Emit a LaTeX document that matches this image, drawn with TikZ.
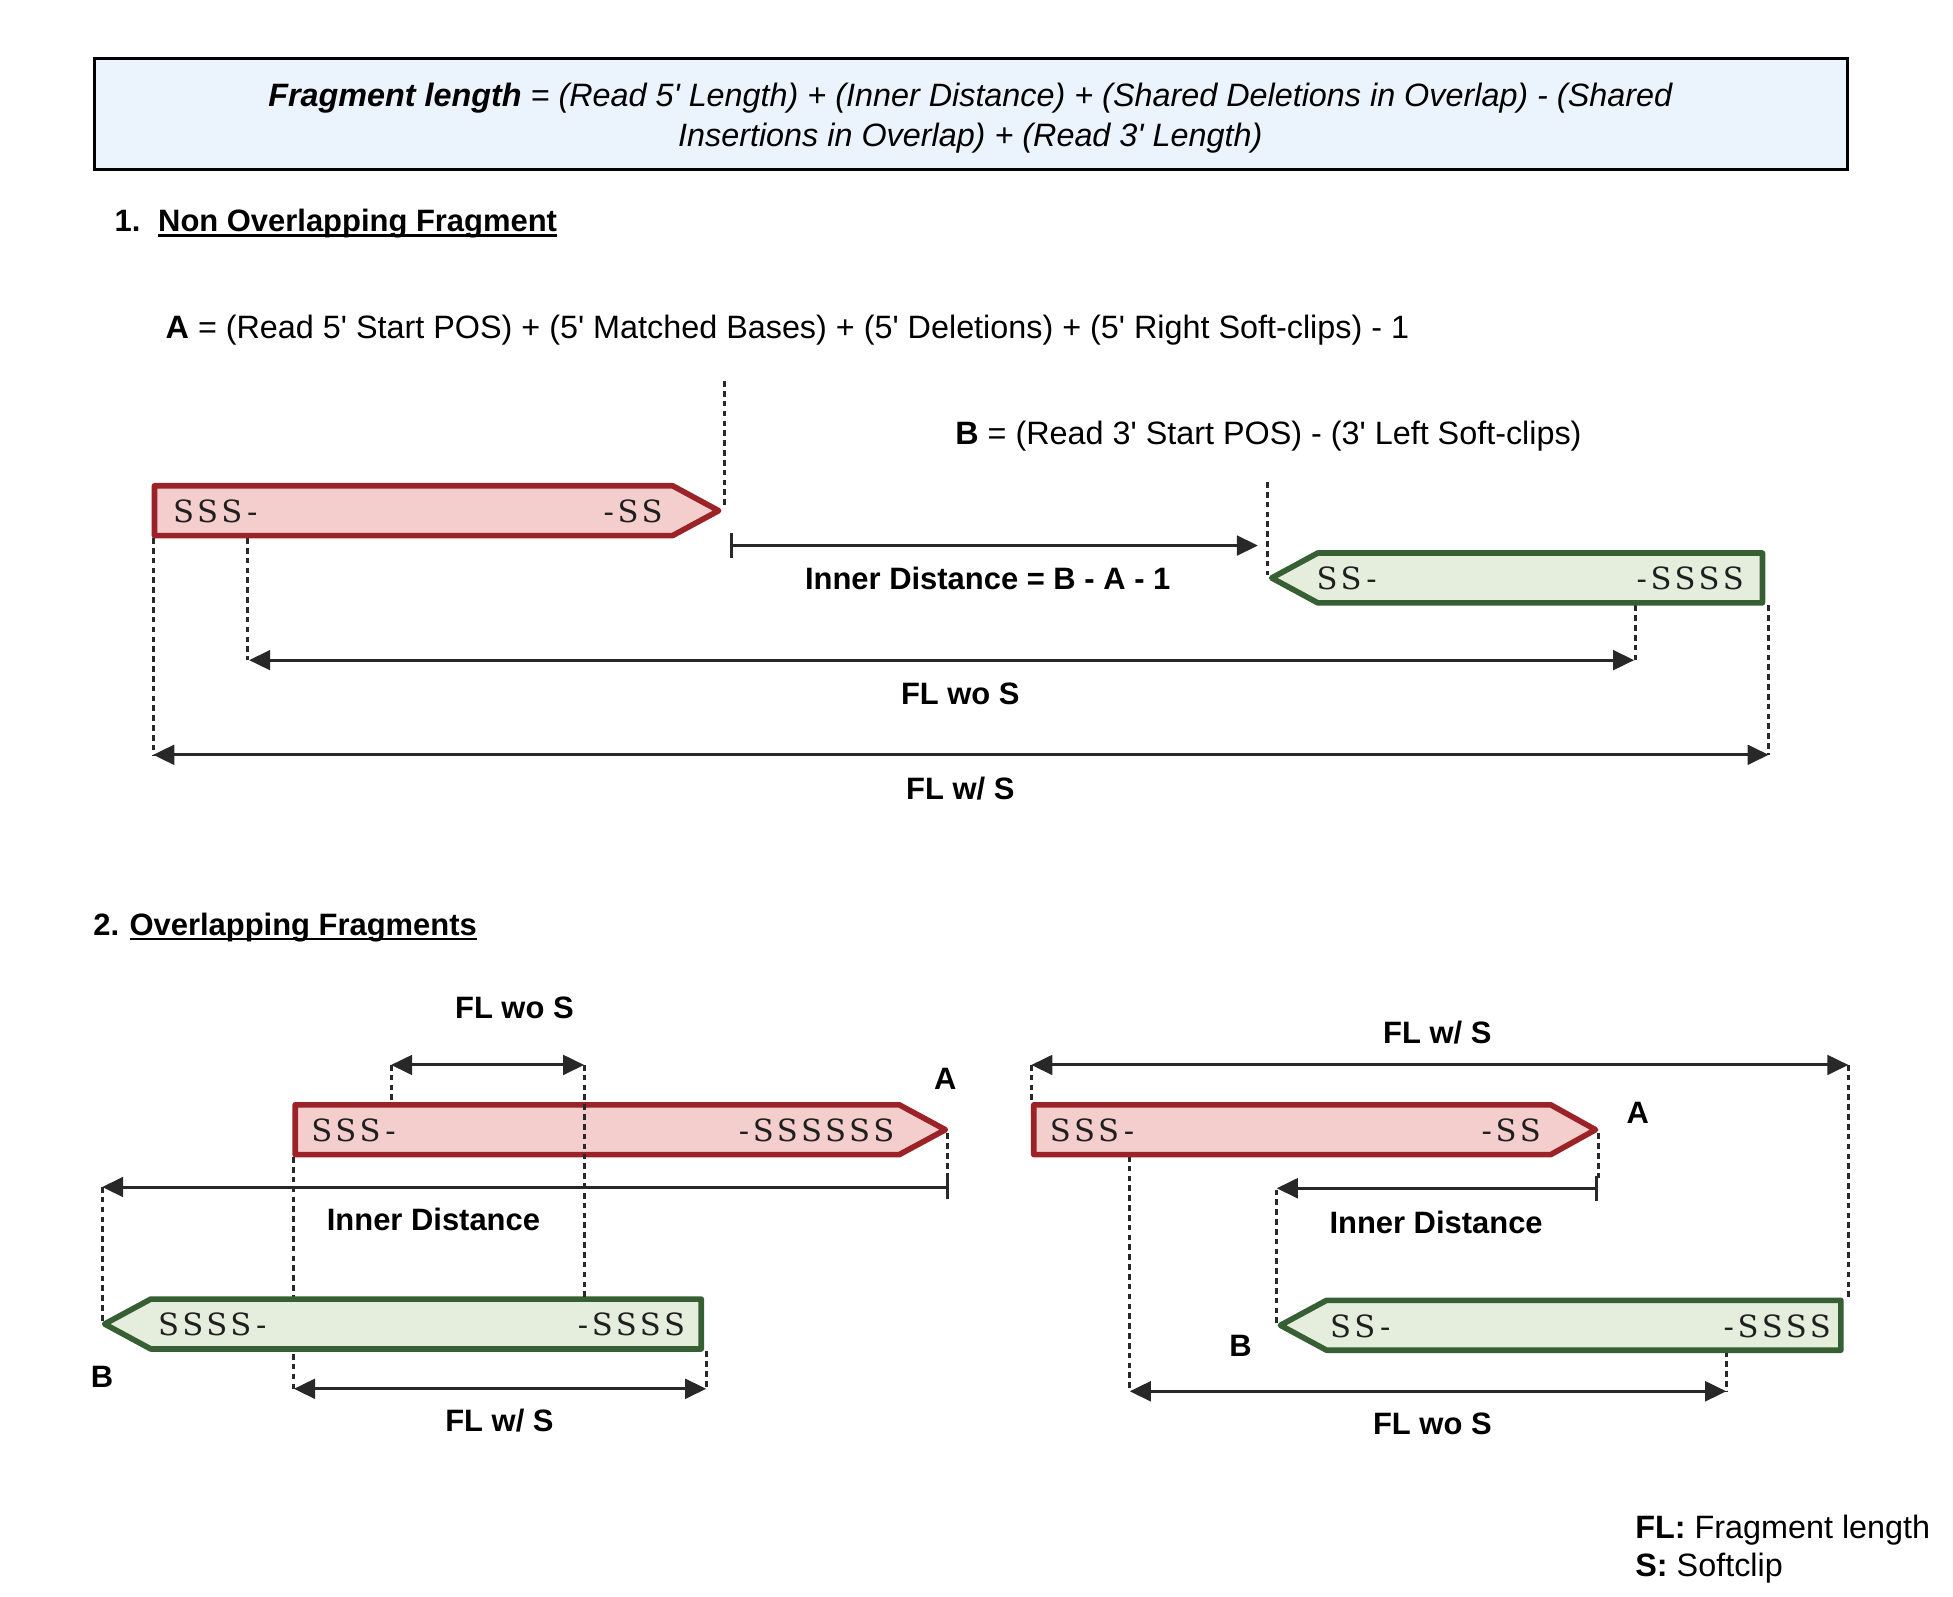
\documentclass[tikz,border=0pt]{standalone}
\usepackage{fontspec}
\setmainfont{Liberation Sans}
\newfontfamily\readfont{DejaVu Serif}[LetterSpace=12]
\usetikzlibrary{arrows.meta}
\definecolor{redline}{RGB}{155,34,38}
\definecolor{redfill}{RGB}{244,205,205}
\definecolor{greenline}{RGB}{54,95,52}
\definecolor{greenfill}{RGB}{229,237,221}
\definecolor{hdrfill}{RGB}{235,243,252}
\definecolor{arrowgray}{RGB}{40,40,40}
\definecolor{guidegray}{RGB}{40,40,40}
\newcommand\ap{\textquotesingle}
\begin{document}
\begin{tikzpicture}[x=0.012455cm,y=-0.012455cm,
  font=\fontsize{9.2}{11.3}\selectfont,
  every node/.style={inner sep=0pt,outer sep=0pt},
  readred/.style={draw=redline,fill=redfill,line width=1.6pt,line join=round},
  readgreen/.style={draw=greenline,fill=greenfill,line width=1.6pt,line join=round},
  dim/.style={draw=arrowgray,line width=0.85pt,{Triangle[length=6pt,width=5.6pt]}-{Triangle[length=6pt,width=5.6pt]}},
  idim/.style={draw=arrowgray,line width=0.85pt,{Bar[width=7pt]}-{Triangle[length=6pt,width=5.6pt]}},
  guide/.style={draw=guidegray,line width=0.85pt,dash pattern=on 1.6pt off 1.2pt},
  uline/.style={draw=black,line width=0.6pt},
  lbl/.style={font=\bfseries\fontsize{8.8}{10}\selectfont,anchor=base},
  head/.style={anchor=base west,font=\bfseries\fontsize{8.8}{10}\selectfont},
  seq/.style={font=\readfont\fontsize{8.7}{10}\selectfont,text=black!88},
  seqL/.style={seq,anchor=base west},
  seqR/.style={seq,anchor=base east},
  txt/.style={anchor=base west}]
\useasboundingbox (0,0) rectangle (1568,1281.4);

% header
\draw[fill=hdrfill,draw=black,line width=0.9pt] (76,47) rectangle (1483,136);
\node[align=center,font=\itshape\fontsize{9.2}{11.3}\selectfont] (formula) at (779,95)
 {\textbf{Fragment length} = (Read 5\ap{} Length) + (Inner Distance) + (Shared Deletions in Overlap) - (Shared\\
  Insertions in Overlap) + (Read 3\ap{} Length)};

% section 1
\node[head] (s1num) at (92,186) {1.};
\node[head] (s1title) at (127,186) {Non Overlapping Fragment};
\draw[uline] ([yshift=-1.1pt]s1title.base west) -- ([yshift=-1.1pt]s1title.base east);
\node[txt] (Aeq) at (133,272) {\textbf{A} = (Read 5\ap{} Start POS) + (5\ap{} Matched Bases) + (5\ap{} Deletions) + (5\ap{} Right Soft-clips) - 1};
\node[txt] (Beq) at (767,357) {\textbf{B} = (Read 3\ap{} Start POS) - (3\ap{} Left Soft-clips)};

\draw[guide] (582,306) -- (582,406);
\draw[guide] (1018,387) -- (1018,462);
\draw[guide] (123,432) -- (123,606);
\draw[guide] (199,432) -- (199,530);
\draw[guide] (1313,486) -- (1313,530);
\draw[guide] (1420,486) -- (1420,606);

\draw[readred] (124,390) -- (540,390) -- (577,410) -- (540,430) -- (124,430) -- cycle;
\node[seqL] (r1a) at (139,419.5) {SSS-};
\node[seqR] (r1b) at (532,419.5) {-SS};
\draw[readgreen] (1021,464) -- (1058,444) -- (1415,444) -- (1415,484) -- (1058,484) -- cycle;
\node[seqL] (g1a) at (1057,473.5) {SS-};
\node[seqR] (g1b) at (1400,473.5) {-SSSS};

\coordinate (i1s) at (586,438);
\coordinate (i1e) at (1010,438);
\draw[idim] (i1s) -- (i1e);
\node[lbl] (i1l) at (793,473) {Inner Distance = B - A - 1};
\coordinate (w1s) at (200,530);
\coordinate (w1e) at (1312,530);
\draw[dim] (w1s) -- (w1e);
\node[lbl] (w1l) at (771,566) {FL wo S};
\coordinate (f1s) at (123,606);
\coordinate (f1e) at (1420,606);
\draw[dim] (f1s) -- (f1e);
\node[lbl] (f1l) at (771,642) {FL w/ S};

% section 2
\node[head] (s2num) at (75,751) {2.};
\node[head] (s2title) at (104,751) {Overlapping Fragments};
\draw[uline] ([yshift=-1.1pt]s2title.base west) -- ([yshift=-1.1pt]s2title.base east);

% left group
\draw[guide] (314,855) -- (314,886);
\draw[guide] (236,929) -- (236,1115);
\draw[guide] (761,910) -- (761,946);
\draw[guide] (82,953) -- (82,1062);
\draw[guide] (567,1085) -- (567,1115);

\draw[readred] (237,887) -- (722,887) -- (759,907) -- (722,927) -- (237,927) -- cycle;
\node[seqL] (r2a) at (250,916.5) {SSS-};
\node[seqR] (r2b) at (718,916.5) {-SSSSSS};
\draw[readgreen] (84,1063) -- (121,1043) -- (563,1043) -- (563,1083) -- (121,1083) -- cycle;
\node[seqL] (g2a) at (127,1072.5) {SSSS-};
\node[seqR] (g2b) at (550,1072.5) {-SSSS};
\draw[guide] (469,855) -- (469,1042);

\coordinate (w2s) at (314,855);
\coordinate (w2e) at (469,855);
\draw[dim] (w2s) -- (w2e);
\node[lbl] (w2l) at (413,818) {FL wo S};
\node[lbl] (A2) at (759,875) {A};
\coordinate (i2s) at (762,953);
\coordinate (i2e) at (82,953);
\draw[idim] (i2s) -- (i2e);
\node[lbl] (i2l) at (348,988) {Inner Distance};
\node[lbl] (B2) at (82,1114) {B};
\coordinate (f2s) at (236,1115);
\coordinate (f2e) at (567,1115);
\draw[dim] (f2s) -- (f2e);
\node[lbl] (f2l) at (401,1149) {FL w/ S};

% right group
\draw[guide] (828,855) -- (828,886);
\draw[guide] (1484,855) -- (1484,1043);
\draw[guide] (1283,910) -- (1283,946);
\draw[guide] (1025,955) -- (1025,1062);
\draw[guide] (907,928) -- (907,1117);
\draw[guide] (1386,1085) -- (1386,1117);

\draw[readred] (830,887) -- (1245,887) -- (1281,907) -- (1245,927) -- (830,927) -- cycle;
\node[seqL] (r3a) at (843,916.5) {SSS-};
\node[seqR] (r3b) at (1237,916.5) {-SS};
\draw[readgreen] (1028,1064) -- (1065,1044) -- (1478,1044) -- (1478,1084) -- (1065,1084) -- cycle;
\node[seqL] (g3a) at (1068,1073.5) {SS-};
\node[seqR] (g3b) at (1470,1073.5) {-SSSS};

\coordinate (f3s) at (828,855);
\coordinate (f3e) at (1484,855);
\draw[dim] (f3s) -- (f3e);
\node[lbl] (f3l) at (1154,838) {FL w/ S};
\node[lbl] (A3) at (1315,902) {A};
\coordinate (i3s) at (1283,954);
\coordinate (i3e) at (1025,954);
\draw[idim] (i3s) -- (i3e);
\node[lbl] (i3l) at (1153,990) {Inner Distance};
\node[lbl] (B3) at (996,1089) {B};
\coordinate (w3s) at (907,1117);
\coordinate (w3e) at (1386,1117);
\draw[dim] (w3s) -- (w3e);
\node[lbl] (w3l) at (1150,1152) {FL wo S};

% legend
\node[txt] (leg1) at (1313,1235) {\textbf{FL:} Fragment length};
\node[txt] (leg2) at (1313,1266) {\textbf{S:} Softclip};
\end{tikzpicture}
\end{document}
